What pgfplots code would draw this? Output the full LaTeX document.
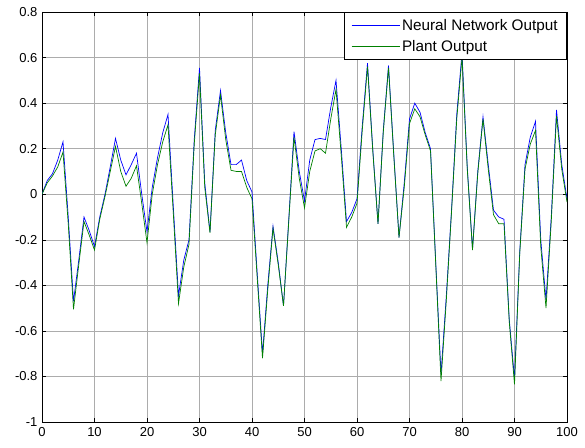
\documentclass[border=0pt]{standalone}
\usepackage{pgfplots}
\pgfplotsset{compat=1.18}
\usepackage{fontspec}
\setmainfont{Liberation Sans}
\definecolor{mblue}{RGB}{0,0,255}
\definecolor{mgreen}{RGB}{0,128,0}
\begin{document}
\begin{tikzpicture}
\begin{axis}[
  scale only axis,
  width=525pt, height=410pt,
  xmin=0, xmax=100, ymin=-1, ymax=0.8,
  xtick={0,10,...,100},
  ytick={-1,-0.8,-0.6,-0.4,-0.2,0,0.2,0.4,0.6,0.8},
  yticklabels={-1,-0.8,-0.6,-0.4,-0.2,0,0.2,0.4,0.6,0.8},
  xticklabels={0,10,20,30,40,50,60,70,80,90,100},
  tick align=inside,
  major tick length=4pt,
  tick style={black, line width=0.5pt},
  grid=major,
  major grid style={gray!65, line width=0.5pt},
  axis line style={black, line width=0.7pt},
  tick label style={font=\fontsize{13}{15}\selectfont},
  xticklabel style={yshift=-2pt},
  yticklabel style={xshift=-1pt},
  legend style={at={(1,1)}, anchor=north east, draw=black, line width=0.7pt,
    font=\fontsize{15.3}{18}\selectfont, row sep=4pt, inner xsep=7pt, inner ysep=5pt,
    legend cell align=left},
  legend image code/.code={\draw[#1, line width=0.7pt] (0pt,0pt) -- (48pt,0pt);},
]
\addplot[mblue, line width=0.7pt] coordinates {
(0,0.00)(1,0.06)(2,0.09)(3,0.15)(4,0.23)(5,-0.10)(6,-0.47)(7,-0.29)(8,-0.10)(9,-0.16)
(10,-0.23)(11,-0.10)(12,0.00)(13,0.12)(14,0.245)(15,0.15)(16,0.085)(17,0.13)(18,0.18)(19,0.00)
(20,-0.165)(21,0.03)(22,0.16)(23,0.27)(24,0.35)(25,-0.05)(26,-0.445)(27,-0.29)(28,-0.20)(29,0.24)
(30,0.555)(31,0.05)(32,-0.165)(33,0.28)(34,0.455)(35,0.27)(36,0.13)(37,0.13)(38,0.15)(39,0.06)
(40,0.01)(41,-0.35)(42,-0.70)(43,-0.40)(44,-0.14)(45,-0.30)(46,-0.49)(47,-0.11)(48,0.275)(49,0.10)
(50,-0.03)(51,0.15)(52,0.24)(53,0.245)(54,0.24)(55,0.38)(56,0.50)(57,0.20)(58,-0.12)(59,-0.08)
(60,-0.02)(61,0.30)(62,0.575)(63,0.20)(64,-0.13)(65,0.28)(66,0.565)(67,0.18)(68,-0.19)(69,0.05)
(70,0.33)(71,0.40)(72,0.36)(73,0.27)(74,0.20)(75,-0.30)(76,-0.79)(77,-0.45)(78,-0.07)(79,0.35)
(80,0.62)(81,0.12)(82,-0.24)(83,0.10)(84,0.34)(85,0.13)(86,-0.07)(87,-0.10)(88,-0.11)(89,-0.55)
(90,-0.81)(91,-0.25)(92,0.13)(93,0.25)(94,0.32)(95,-0.20)(96,-0.465)(97,-0.10)(98,0.37)(99,0.13)
(100,-0.02)
};
\addlegendentry{Neural Network Output}
\addplot[mgreen, line width=0.7pt] coordinates {
(0,0.00)(1,0.05)(2,0.08)(3,0.12)(4,0.185)(5,-0.13)(6,-0.505)(7,-0.31)(8,-0.12)(9,-0.18)
(10,-0.245)(11,-0.11)(12,-0.01)(13,0.10)(14,0.21)(15,0.10)(16,0.035)(17,0.07)(18,0.125)(19,-0.04)
(20,-0.213)(21,0.00)(22,0.13)(23,0.23)(24,0.305)(25,-0.08)(26,-0.48)(27,-0.32)(28,-0.22)(29,0.22)
(30,0.53)(31,0.03)(32,-0.17)(33,0.26)(34,0.435)(35,0.24)(36,0.105)(37,0.10)(38,0.10)(39,0.03)
(40,-0.02)(41,-0.37)(42,-0.72)(43,-0.42)(44,-0.15)(45,-0.31)(46,-0.49)(47,-0.12)(48,0.25)(49,0.07)
(50,-0.06)(51,0.10)(52,0.19)(53,0.20)(54,0.18)(55,0.33)(56,0.46)(57,0.17)(58,-0.145)(59,-0.10)
(60,-0.04)(61,0.28)(62,0.56)(63,0.19)(64,-0.13)(65,0.27)(66,0.555)(67,0.17)(68,-0.19)(69,0.03)
(70,0.31)(71,0.375)(72,0.34)(73,0.26)(74,0.19)(75,-0.31)(76,-0.82)(77,-0.47)(78,-0.08)(79,0.33)
(80,0.60)(81,0.11)(82,-0.245)(83,0.09)(84,0.33)(85,0.11)(86,-0.09)(87,-0.13)(88,-0.13)(89,-0.56)
(90,-0.835)(91,-0.26)(92,0.11)(93,0.22)(94,0.28)(95,-0.23)(96,-0.50)(97,-0.12)(98,0.343)(99,0.11)
(100,-0.035)
};
\addlegendentry{Plant Output}
\end{axis}
\path ([xshift=-42pt,yshift=-25pt]current axis.south west) rectangle ([xshift=18pt,yshift=12pt]current axis.north east);
\end{tikzpicture}
\end{document}
